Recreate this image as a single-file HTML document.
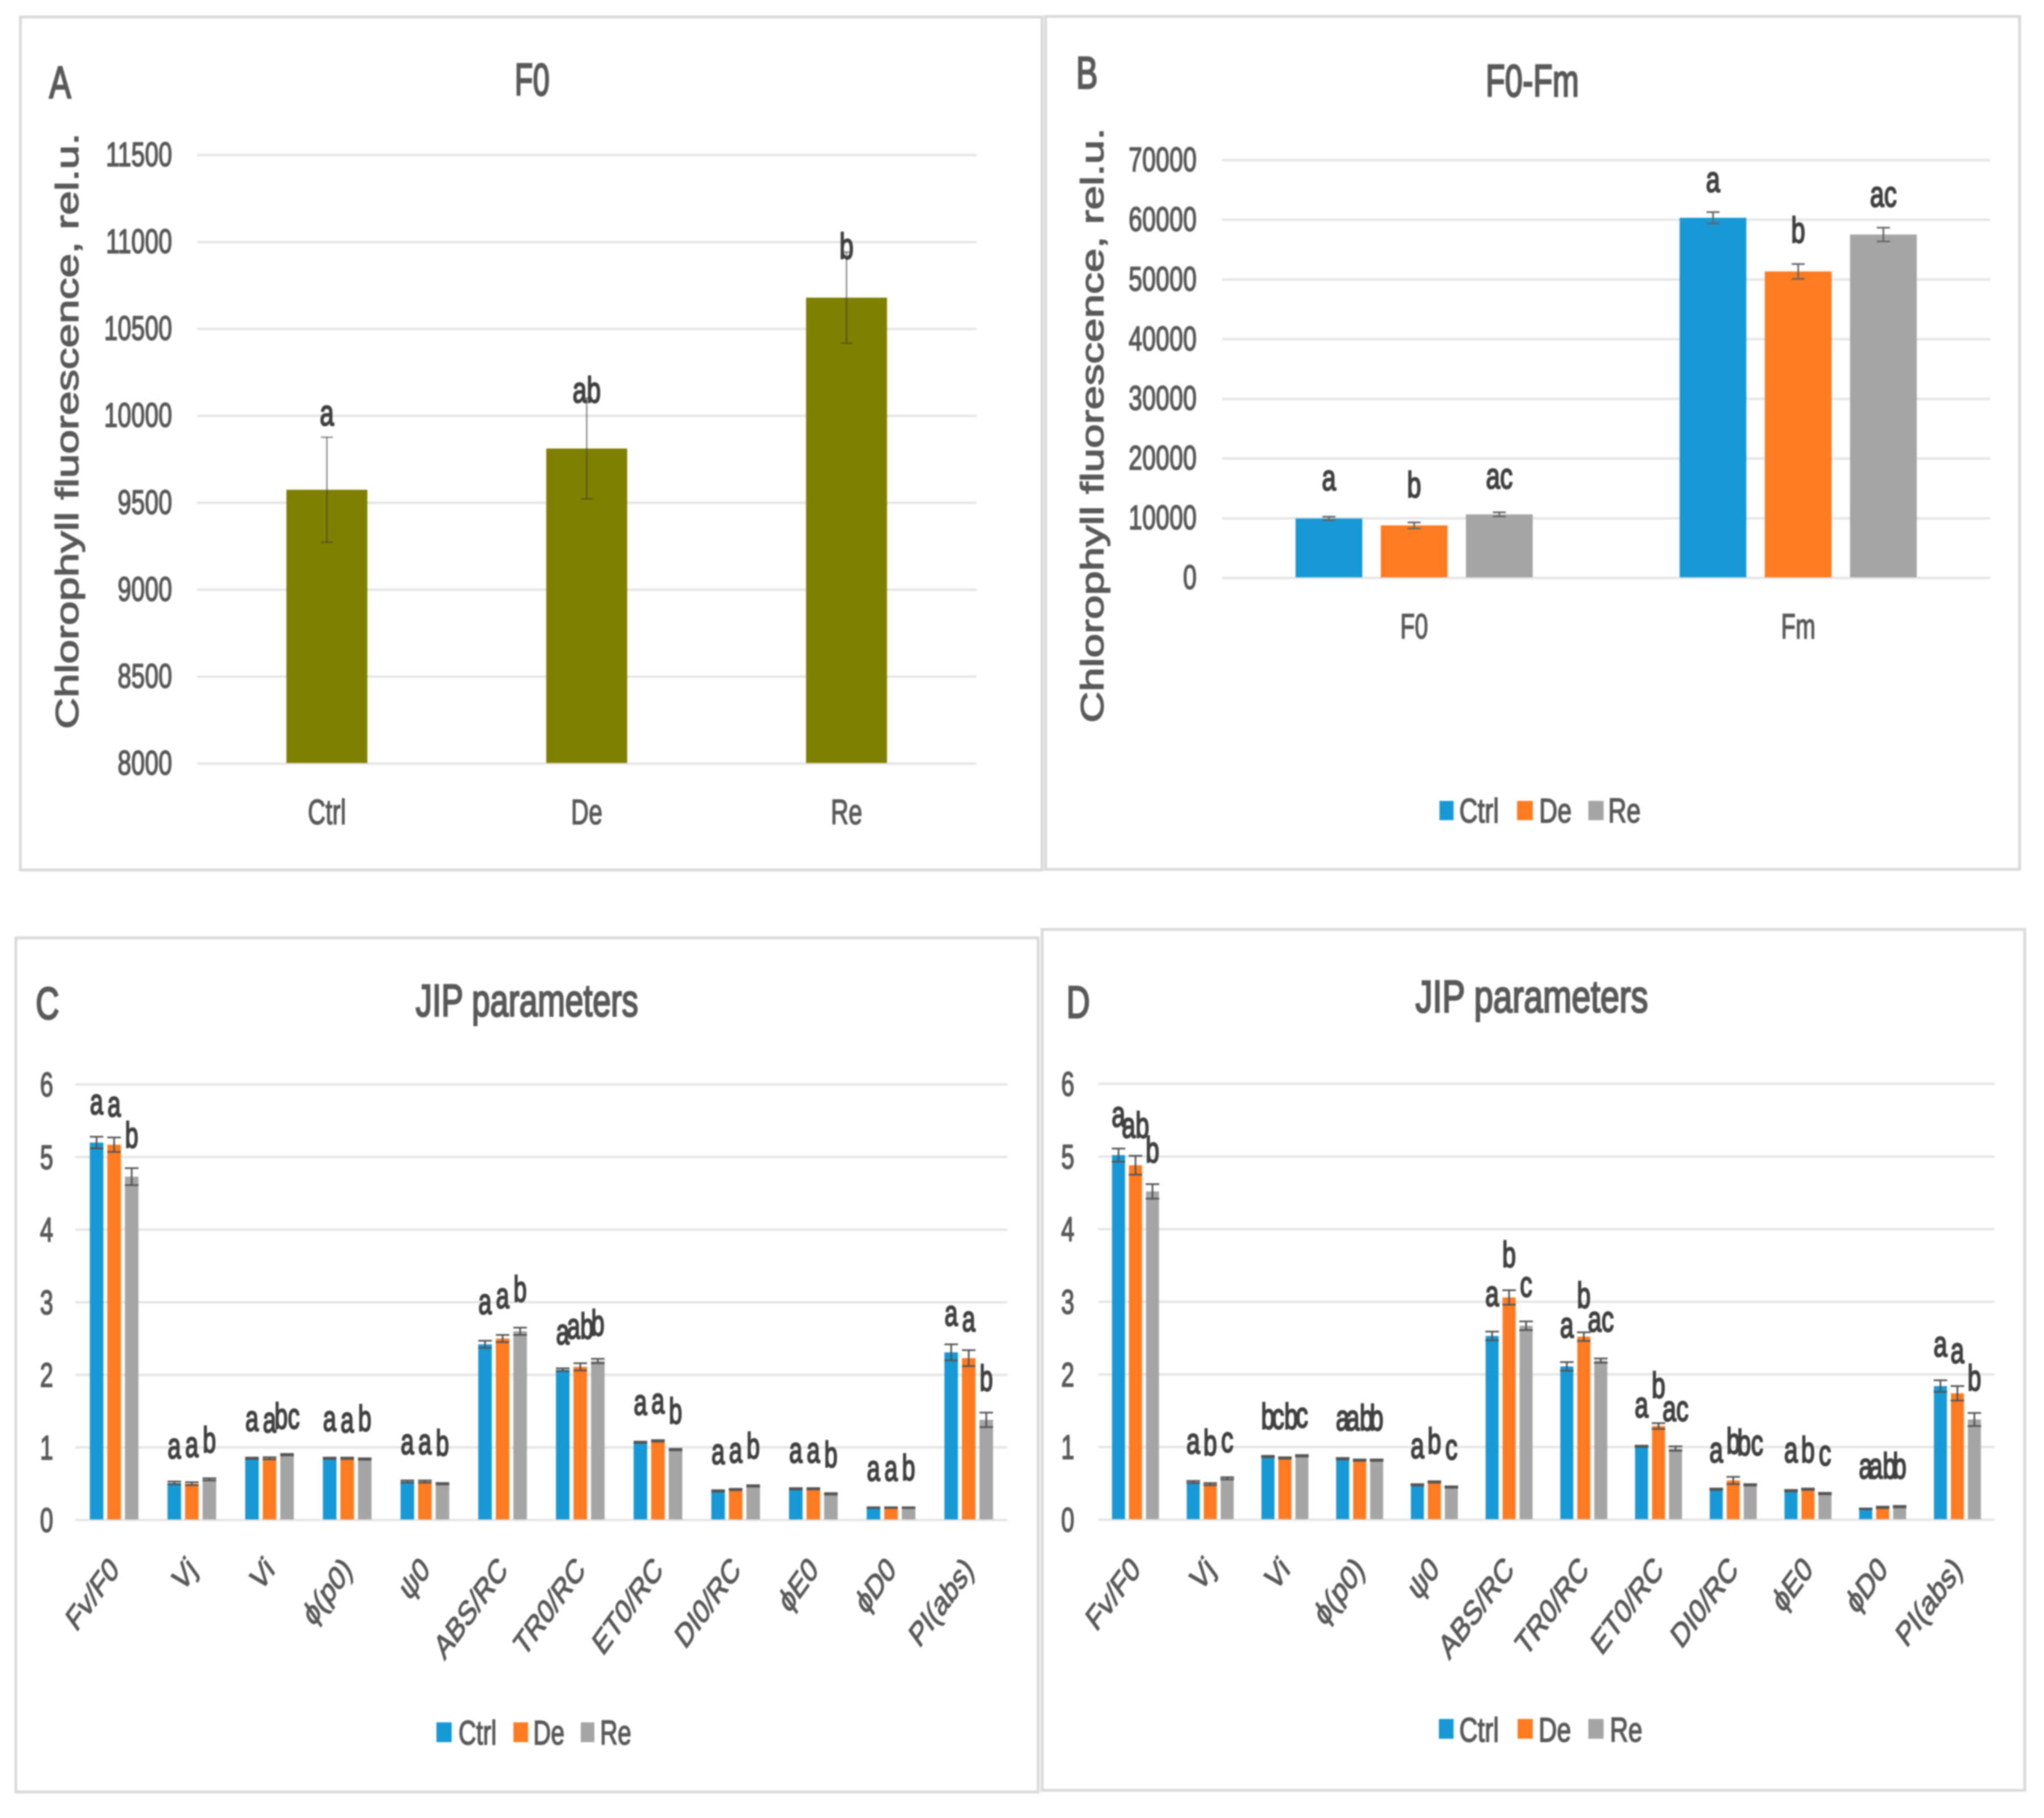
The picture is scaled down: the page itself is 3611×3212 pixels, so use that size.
<!DOCTYPE html>
<html lang="en">
<head>
<meta charset="utf-8">
<title>Chlorophyll fluorescence panels</title>
<style>
html,body{margin:0;padding:0;background:#fff;}
#figure{display:block;width:3611px;height:3212px;filter:blur(1.4px);font-family:"Liberation Sans","DejaVu Sans",sans-serif;}
.frame{fill:#fff;stroke:#d9d9d9;stroke-width:5;}
.title{fill:#595959;font-size:80px;stroke:#595959;stroke-width:3;}
.ytitle{fill:#595959;font-size:57px;stroke:#595959;stroke-width:1.6;}
.leg{fill:#595959;font-size:60px;stroke:#595959;stroke-width:1.9;}
</style>
</head>
<body>
<svg id="figure" xmlns="http://www.w3.org/2000/svg" width="3611" height="3212" viewBox="0 0 3611 3212">
  <rect x="0" y="0" width="3611" height="3212" fill="#fff"/>

  <g id="panel-a">
    <rect class="frame" x="36" y="30" width="1805" height="1507"/>
    <text class="title" transform="translate(87,173) scale(.72,1)" font-size="84">A</text>
    <text class="title" text-anchor="middle" transform="translate(940,168) scale(.66,1)">F0</text>
    <text class="ytitle" transform="translate(138,1288) rotate(-90)" textLength="1053" lengthAdjust="spacingAndGlyphs">Chlorophyll fluorescence, rel.u.</text>
  </g>

  <g id="panel-b">
    <rect class="frame" x="1847" y="29" width="1721" height="1507"/>
    <text class="title" transform="translate(1901,156) scale(.72,1)" font-size="78">B</text>
    <text class="title" text-anchor="middle" transform="translate(2707,170) scale(.7,1)">F0-Fm</text>
    <text class="ytitle" transform="translate(1949,1277) rotate(-90)" textLength="1051" lengthAdjust="spacingAndGlyphs">Chlorophyll fluorescence, rel.u.</text>
    <g>
      <rect x="2543" y="1415" width="25" height="34" fill="#1799d6"/>
      <text class="leg" transform="translate(2578,1453) scale(.75,1)">Ctrl</text>
      <rect x="2680" y="1415" width="28" height="34" fill="#fe7b22"/>
      <text class="leg" transform="translate(2719,1453) scale(.75,1)">De</text>
      <rect x="2806" y="1415" width="27" height="34" fill="#a5a5a5"/>
      <text class="leg" transform="translate(2841,1453) scale(.75,1)">Re</text>
    </g>
  </g>

  <g id="panel-c">
    <rect class="frame" x="28" y="1657" width="1806" height="1509"/>
    <text class="title" transform="translate(63,1800) scale(.72,1)" font-size="82">C</text>
    <text class="title" text-anchor="middle" transform="translate(931,1795) scale(.727,1)">JIP parameters</text>
    <g>
      <rect x="771" y="3043" width="27" height="35" fill="#1799d6"/>
      <text class="leg" transform="translate(810,3082) scale(.72,1)">Ctrl</text>
      <rect x="907" y="3043" width="26" height="35" fill="#fe7b22"/>
      <text class="leg" transform="translate(942,3082) scale(.72,1)">De</text>
      <rect x="1026" y="3043" width="24" height="35" fill="#a5a5a5"/>
      <text class="leg" transform="translate(1060,3082) scale(.72,1)">Re</text>
    </g>
  </g>

  <g id="panel-d">
    <rect class="frame" x="1841" y="1642" width="1736" height="1521"/>
    <text class="title" transform="translate(1884,1798) scale(.72,1)" font-size="82">D</text>
    <text class="title" text-anchor="middle" transform="translate(2706,1788) scale(.76,1)">JIP parameters</text>
    <g>
      <rect x="2542" y="3037" width="26" height="35" fill="#1799d6"/>
      <text class="leg" transform="translate(2578,3077) scale(.75,1)">Ctrl</text>
      <rect x="2681" y="3037" width="27" height="35" fill="#fe7b22"/>
      <text class="leg" transform="translate(2718,3077) scale(.75,1)">De</text>
      <rect x="2806" y="3037" width="27" height="35" fill="#a5a5a5"/>
      <text class="leg" transform="translate(2844,3077) scale(.75,1)">Re</text>
    </g>
  </g>
</svg>

<script>
// ---- Panel A data ----
const aTicks = [8000, 8500, 9000, 9500, 10000, 10500, 11000, 11500];
const aCategories = ['Ctrl', 'De', 'Re'];
const aValues = [9575, 9812, 10680];
const aErrors = [302, 290, 262];
const aLetters = ['a', 'ab', 'b'];
const aLetterLevels = [9945, 10078, 10905];

// ---- Panel B data ----
const bTicks = [0, 10000, 20000, 30000, 40000, 50000, 60000, 70000];
const bCategories = ['F0', 'Fm'];
const bCtrl = [9960, 60350];
const bDe = [8800, 51350];
const bRe = [10640, 57540];
const bCtrlErr = [300, 950];
const bDeErr = [500, 1250];
const bReErr = [350, 1150];
const bCtrlLetters = ['a', 'a'];
const bDeLetters = ['b', 'b'];
const bReLetters = ['ac', 'ac'];
const bCtrlLevels = [14700, 64700];
const bDeLevels = [13500, 56200];
const bReLevels = [15000, 62200];

// ---- Panel C data ----
const jipTicks = [0, 1, 2, 3, 4, 5, 6];
const jipCategories = ['Fv/F0', 'Vj', 'Vi', 'ϕ(p0)', 'ψ0', 'ABS/RC', 'TR0/RC', 'ET0/RC', 'DI0/RC', 'ϕE0', 'ϕD0', 'PI(abs)'];
const cCtrl = [5.2, 0.51, 0.85, 0.85, 0.53, 2.42, 2.07, 1.07, 0.40, 0.43, 0.17, 2.31];
const cDe = [5.17, 0.50, 0.85, 0.85, 0.53, 2.50, 2.11, 1.09, 0.42, 0.43, 0.17, 2.23];
const cRe = [4.73, 0.56, 0.90, 0.84, 0.50, 2.60, 2.19, 0.97, 0.47, 0.36, 0.17, 1.38];
const cCtrlErr = [0.08, 0.02, 0.01, 0.01, 0.015, 0.05, 0.02, 0.01, 0.01, 0.01, 0.005, 0.11];
const cDeErr = [0.10, 0.02, 0.015, 0.01, 0.015, 0.05, 0.05, 0.01, 0.01, 0.01, 0.005, 0.11];
const cReErr = [0.117, 0.015, 0.01, 0.01, 0.01, 0.05, 0.03, 0.01, 0.01, 0.01, 0.005, 0.10];
const cCtrlLetters = ['a', 'a', 'a', 'a', 'a', 'a', 'a', 'a', 'a', 'a', 'a', 'a'];
const cDeLetters = ['a', 'a', 'a', 'a', 'a', 'a', 'ab', 'a', 'a', 'a', 'a', 'a'];
const cReLetters = ['b', 'b', 'bc', 'b', 'b', 'b', 'b', 'b', 'b', 'b', 'b', 'b'];
const cCtrlLevels = [5.59, 0.85, 1.23, 1.23, 0.91, 2.84, 2.42, 1.45, 0.77, 0.79, 0.54, 2.68];
const cDeLevels = [5.56, 0.87, 1.21, 1.21, 0.91, 2.92, 2.50, 1.47, 0.79, 0.79, 0.54, 2.60];
const cReLevels = [5.13, 0.93, 1.26, 1.23, 0.89, 3.01, 2.54, 1.33, 0.85, 0.73, 0.55, 1.78];

// ---- Panel D data ----
const dCtrl = [5.02, 0.52, 0.87, 0.84, 0.48, 2.53, 2.11, 1.01, 0.42, 0.40, 0.15, 1.84];
const dDe = [4.88, 0.49, 0.85, 0.82, 0.52, 3.06, 2.52, 1.29, 0.54, 0.42, 0.17, 1.74];
const dRe = [4.52, 0.57, 0.88, 0.82, 0.45, 2.67, 2.19, 0.98, 0.48, 0.36, 0.18, 1.38];
const dCtrlErr = [0.09, 0.015, 0.01, 0.01, 0.01, 0.06, 0.06, 0.01, 0.01, 0.01, 0.005, 0.08];
const dDeErr = [0.13, 0.015, 0.01, 0.01, 0.01, 0.10, 0.06, 0.04, 0.05, 0.01, 0.01, 0.10];
const dReErr = [0.10, 0.015, 0.01, 0.01, 0.01, 0.06, 0.03, 0.03, 0.01, 0.01, 0.01, 0.09];
const dCtrlLetters = ['a', 'a', 'b', 'a', 'a', 'a', 'a', 'a', 'a', 'a', 'a', 'a'];
const dDeLetters = ['ab', 'b', 'cb', 'ab', 'b', 'b', 'b', 'b', 'b', 'b', 'ab', 'a'];
const dReLetters = ['b', 'c', 'c', 'b', 'c', 'c', 'ac', 'ac', 'bc', 'c', 'b', 'b'];
const dCtrlLevels = [5.41, 0.91, 1.25, 1.23, 0.85, 2.94, 2.51, 1.41, 0.79, 0.79, 0.57, 2.25];
const dDeLevels = [5.26, 0.89, 1.25, 1.23, 0.91, 3.48, 2.92, 1.68, 0.91, 0.79, 0.57, 2.16];
const dReLevels = [4.92, 0.93, 1.27, 1.23, 0.83, 3.07, 2.59, 1.36, 0.89, 0.75, 0.57, 1.78];

const SVG_NS = 'http://www.w3.org/2000/svg';

function addText(parent, str, x, y, size, sx, anchor, fill, stroke, rotated, name) {
  const el = document.createElementNS(SVG_NS, 'text');
  
  
  el.setAttribute('transform', 'translate(' + x + ',' + y + ') scale(' + sx + ',1)' + (rotated ? ' rotate(-45)' : ''));
  el.setAttribute('text-anchor', anchor);
  el.setAttribute('font-size', size);
  el.setAttribute('fill', fill);
  el.setAttribute('stroke', fill);
  el.setAttribute('stroke-width', stroke);
  el.textContent = str;
  parent.appendChild(el);
  return el;
}

function addLine(parent, x1, y1, x2, y2, color, width, name) {
  const el = document.createElementNS(SVG_NS, 'line');
  
  
  el.setAttribute('x1', x1);
  el.setAttribute('y1', y1);
  el.setAttribute('x2', x2);
  el.setAttribute('y2', y2);
  el.setAttribute('stroke', color);
  el.setAttribute('stroke-width', width);
  parent.appendChild(el);
  return el;
}

function addBar(parent, x, y, w, h, color, name) {
  const el = document.createElementNS(SVG_NS, 'rect');
  
  
  el.setAttribute('x', x);
  el.setAttribute('y', y);
  el.setAttribute('width', w);
  el.setAttribute('height', h);
  el.setAttribute('fill', color);
  parent.appendChild(el);
  return el;
}

function drawChart(panelId, geo, ticks, categories, series) {
  const root = document.getElementById(panelId);
  const lo = ticks[0];
  const hi = ticks[ticks.length - 1];
  const yScale = function (v) { return geo.y0 - (v - lo) / (hi - lo) * (geo.y0 - geo.y1); };
  const band = (geo.x1 - geo.x0) / categories.length;
  const xCenter = function (i) { return geo.x0 + band * (i + 0.5); };
  const gap = geo.offset;

  ticks.forEach(function (t) {
    addLine(root, geo.x0, yScale(t), geo.x1, yScale(t), '#e6e6e6', 4.5, 'gridline-' + t);
    addText(root, String(t), geo.tickX, yScale(t) + geo.tickDy, 60, geo.tickSx, 'end', '#595959', 2, false, 'y-tick-label-' + t);
  });

  categories.forEach(function (cat, i) {
    series.forEach(function (s, k) {
      const cx = xCenter(i) + (k - (series.length - 1) / 2) * gap;
      const top = yScale(s.values[i]);
      addBar(root, cx - geo.barW / 2, top, geo.barW, geo.y0 - top - 1, s.color, 'bar-' + s.name + '-' + cat);
    });
  });

  categories.forEach(function (cat, i) {
    series.forEach(function (s, k) {
      const cx = xCenter(i) + (k - (series.length - 1) / 2) * gap;
      const up = yScale(s.values[i] + s.errors[i]);
      const dn = yScale(s.values[i] - s.errors[i]);
      const errName = 'error-bar-' + s.name + '-' + cat;
      addLine(root, cx, up, cx, dn, geo.errColor, geo.errW, errName);
      addLine(root, cx - geo.capW / 2, up, cx + geo.capW / 2, up, geo.errColor, geo.errW, errName + '-cap-top');
      addLine(root, cx - geo.capW / 2, dn, cx + geo.capW / 2, dn, geo.errColor, geo.errW, errName + '-cap-bottom');
      addText(root, s.letters[i], cx, yScale(s.levels[i]), 64, geo.letterSx, 'middle', '#404040', 2.6, false, 'significance-letter-' + s.name + '-' + cat);
    });
  });

  categories.forEach(function (cat, i) {
    if (geo.rotatedLabels) {
      addText(root, cat, xCenter(i) + 11, geo.y0 + 91, 60, geo.labelSx, 'end', '#595959', 1.8, true, 'x-tick-label-' + cat);
    } else {
      addText(root, cat, xCenter(i), geo.labelY, 62, geo.labelSx, 'middle', '#595959', 1.8, false, 'x-tick-label-' + cat);
    }
  });
}

drawChart('panel-a',
  { x0: 348, x1: 1725, y0: 1349, y1: 274, tickX: 304, tickDy: 19.5, tickSx: 0.72, barW: 143, offset: 0, capW: 21, errW: 2.5, errColor: 'rgba(60,60,60,.6)', letterSx: 0.7, labelY: 1456, labelSx: 0.7, rotatedLabels: false },
  aTicks, aCategories,
  [{ name: 'f0', values: aValues, errors: aErrors, letters: aLetters, levels: aLetterLevels, color: '#808000' }]);

drawChart('panel-b',
  { x0: 2159, x1: 3516, y0: 1021, y1: 283, tickX: 2114, tickDy: 19.5, tickSx: 0.72, barW: 118, offset: 150.5, capW: 23, errW: 3, errColor: '#666666', letterSx: 0.7, labelY: 1128, labelSx: 0.68, rotatedLabels: false },
  bTicks, bCategories,
  [{ name: 'ctrl', values: bCtrl, errors: bCtrlErr, letters: bCtrlLetters, levels: bCtrlLevels, color: '#1799d6' },
   { name: 'de', values: bDe, errors: bDeErr, letters: bDeLetters, levels: bDeLevels, color: '#fe7b22' },
   { name: 're', values: bRe, errors: bReErr, letters: bReLetters, levels: bReLevels, color: '#a5a5a5' }]);

drawChart('panel-c',
  { x0: 133, x1: 1780, y0: 2685.5, y1: 1916, tickX: 94, tickDy: 21, tickSx: 0.7, barW: 24, offset: 31, capW: 24, errW: 3, errColor: '#555555', letterSx: 0.66, rotatedLabels: true, labelSx: 0.72 },
  jipTicks, jipCategories,
  [{ name: 'ctrl', values: cCtrl, errors: cCtrlErr, letters: cCtrlLetters, levels: cCtrlLevels, color: '#1799d6' },
   { name: 'de', values: cDe, errors: cDeErr, letters: cDeLetters, levels: cDeLevels, color: '#fe7b22' },
   { name: 're', values: cRe, errors: cReErr, letters: cReLetters, levels: cReLevels, color: '#a5a5a5' }]);

drawChart('panel-d',
  { x0: 1940, x1: 3524, y0: 2685, y1: 1915, tickX: 1898, tickDy: 21, tickSx: 0.7, barW: 23, offset: 30, capW: 24, errW: 3, errColor: '#555555', letterSx: 0.68, rotatedLabels: true, labelSx: 0.74 },
  jipTicks, jipCategories,
  [{ name: 'ctrl', values: dCtrl, errors: dCtrlErr, letters: dCtrlLetters, levels: dCtrlLevels, color: '#1799d6' },
   { name: 'de', values: dDe, errors: dDeErr, letters: dDeLetters, levels: dDeLevels, color: '#fe7b22' },
   { name: 're', values: dRe, errors: dReErr, letters: dReLetters, levels: dReLevels, color: '#a5a5a5' }]);
</script>
</body>
</html>
